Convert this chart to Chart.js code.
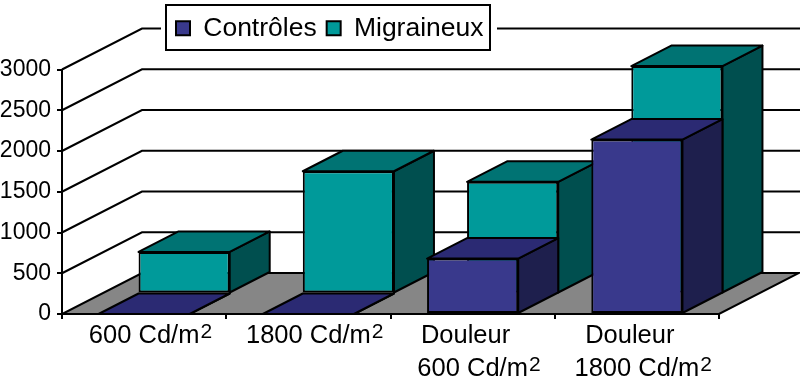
<!DOCTYPE html>
<html>
<head>
<meta charset="utf-8">
<style>
  html, body { margin: 0; padding: 0; background: #fff; }
  canvas { display: block; }
</style>
<script src="https://cdn.jsdelivr.net/npm/chart.js@4/dist/chart.umd.js"></script>
</head>
<body>
<canvas id="chart" width="800" height="380"></canvas>
<script>
const categories = [
  ['600 Cd/m'],
  ['1800 Cd/m'],
  ['Douleur  ', '600 Cd/m'],
  ['Douleur  ', '1800 Cd/m']
];
const superscript = '2';
const controles = [0, 0, 680, 2140];
const migraineux = [510, 1500, 1370, 2790];

// front, top and side shades of each series
const purple = ['#39398c', '#2b2a73', '#1e1f4d'];
const teal = ['#009a9a', '#007373', '#004f4f'];

const BLACK = '#000';
const FONT = 'Arial, "Liberation Sans", sans-serif';

// the 3d depth of the floor, each row of bars takes half of it
const DEPTH_X = 80;
const DEPTH_Y = -41;

function poly(ctx, pts, fill) {
  ctx.beginPath();
  pts.forEach((p, i) => i ? ctx.lineTo(p[0], p[1]) : ctx.moveTo(p[0], p[1]));
  ctx.closePath();
  if (fill) {
    ctx.fillStyle = fill;
    ctx.fill();
  }
  ctx.stroke();
}

const cube3d = {
  id: 'cube3d',

  afterLayout(chart) {
    // legend sits over the back wall, not in its own row
    const legend = chart.legend;
    legend.left = 166;
    legend.right = chart.width;
    legend.top = 5;
    legend.bottom = 50;
  },

  beforeDraw(chart) {
    const {ctx, chartArea: area, scales: {y}} = chart;
    ctx.save();
    ctx.strokeStyle = BLACK;
    ctx.lineWidth = 2;

    // walls
    y.ticks.forEach((t) => {
      if (t.value === 0) return;
      const py = y.getPixelForValue(t.value);
      ctx.beginPath();
      ctx.moveTo(area.left, py);
      ctx.lineTo(area.left + DEPTH_X, py + DEPTH_Y);
      ctx.lineTo(chart.width, py + DEPTH_Y);
      ctx.stroke();
    });

    // floor
    poly(ctx, [
      [area.left, area.bottom],
      [area.right, area.bottom],
      [area.right + DEPTH_X, area.bottom + DEPTH_Y],
      [area.left + DEPTH_X, area.bottom + DEPTH_Y]
    ], '#868686');

    // legend box
    ctx.fillStyle = '#fff';
    ctx.fillRect(161, 0, 336, 56);
    ctx.strokeRect(166, 5, 324, 45);
    ctx.restore();
  },

  beforeDatasetDraw(chart, args) {
    const {ctx} = chart;
    const shades = args.index === 0 ? purple : teal;
    const dx = DEPTH_X / 2;
    const dy = DEPTH_Y / 2;
    ctx.save();
    // rows: first dataset in front, second one behind it
    if (args.index === 1) ctx.translate(dx, dy);

    ctx.save();
    ctx.strokeStyle = BLACK;
    ctx.lineWidth = 2;
    ctx.lineJoin = 'round';
    args.meta.data.forEach((bar) => {
      const left = bar.x - bar.width / 2;
      const right = bar.x + bar.width / 2;
      poly(ctx, [[right, bar.y], [right + dx, bar.y + dy], [right + dx, bar.base + dy], [right, bar.base]], shades[2]);
      poly(ctx, [[left, bar.y], [right, bar.y], [right + dx, bar.y + dy], [left + dx, bar.y + dy]], shades[1]);
    });
    ctx.restore();
  },

  afterDatasetDraw(chart) {
    chart.ctx.restore();
  },

  afterDraw(chart) {
    // Cd/m2: the exponent is a separate smaller text next to the last label line
    const {ctx, scales: {x}} = chart;
    ctx.save();
    ctx.fillStyle = BLACK;
    ctx.textAlign = 'left';
    ctx.textBaseline = 'alphabetic';
    categories.forEach((lines, i) => {
      ctx.font = '25.5px ' + FONT;
      const w = ctx.measureText(lines[lines.length - 1]).width;
      ctx.font = '21px ' + FONT;
      ctx.fillText(superscript, x.getPixelForTick(i) + w / 2 + 1, x.top + 24 + 32.5 * (lines.length - 1));
    });
    ctx.restore();
  }
};

new Chart(document.getElementById('chart'), {
  type: 'bar',
  data: {
    labels: categories,
    datasets: [
      {label: 'Contrôles', data: controles, backgroundColor: purple[0]},
      {label: 'Migraineux', data: migraineux, backgroundColor: teal[0]}
    ]
  },
  options: {
    responsive: false,
    animation: false,
    layout: {padding: {top: 23, right: 81, left: 0, bottom: 0}},
    datasets: {
      bar: {
        grouped: false,
        clip: false,
        categoryPercentage: 1,
        barPercentage: 0.555,
        borderColor: BLACK,
        borderWidth: 2,
        borderSkipped: false
      }
    },
    scales: {
      x: {
        afterFit: (scale) => { scale.height = 66; },
        border: {color: BLACK, width: 2},
        grid: {drawOnChartArea: false, color: BLACK, tickLength: 5, lineWidth: 2},
        ticks: {
          color: BLACK,
          autoSkip: false,
          maxRotation: 0,
          padding: 0,
          font: {family: FONT, size: 25.5, lineHeight: 1.3}
        }
      },
      y: {
        min: 0,
        max: 3000,
        afterFit: (scale) => { scale.width = 62; },
        border: {color: BLACK, width: 2},
        grid: {drawOnChartArea: false, color: BLACK, tickLength: 5, lineWidth: 2},
        ticks: {
          color: BLACK,
          stepSize: 500,
          padding: 6,
          callback: (v) => String(v),
          font: {family: FONT, size: 23}
        }
      }
    },
    plugins: {
      tooltip: {enabled: false},
      legend: {
        position: 'top',
        align: 'start',
        labels: {
          color: BLACK,
          boxWidth: 14,
          boxHeight: 14,
          padding: 10,
          font: {family: FONT, size: 26.5}
        }
      }
    }
  },
  plugins: [cube3d]
});
</script>
</body>
</html>
